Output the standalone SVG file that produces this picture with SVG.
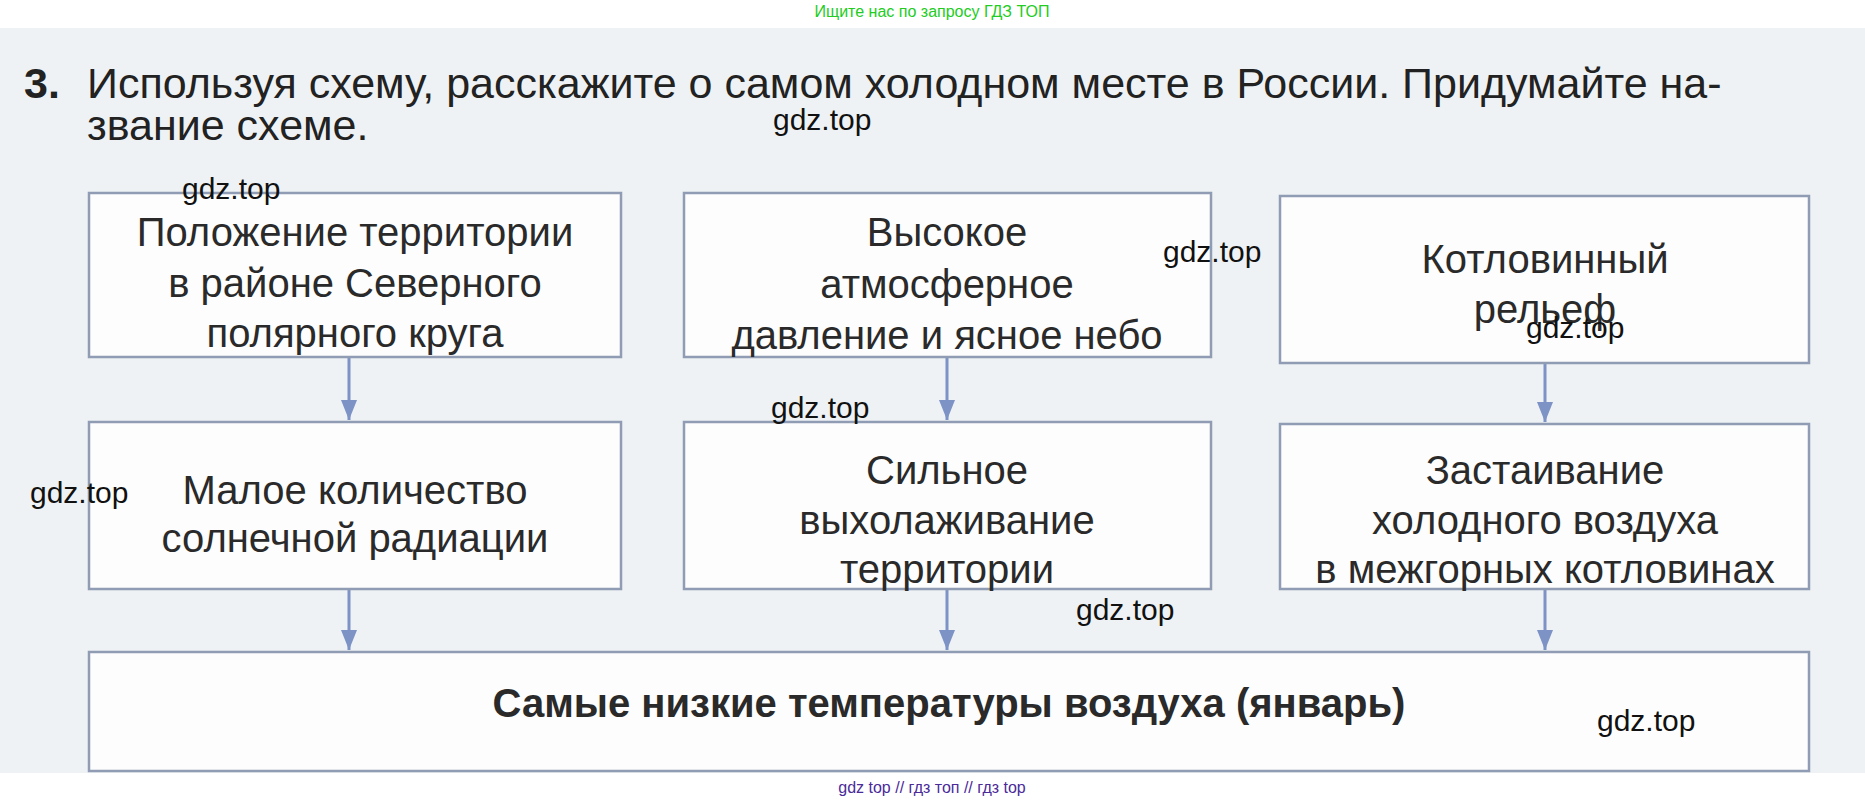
<svg xmlns="http://www.w3.org/2000/svg" width="1865" height="803" viewBox="0 0 1865 803">
<style>
.box{fill:#fdfdfd;stroke:#8f9cb3;stroke-width:2.5}
.t{font-family:"Liberation Sans",Arial,sans-serif;font-size:40px;fill:#2a2a2a;text-anchor:middle}
.h{font-family:"Liberation Sans",Arial,sans-serif;font-size:43px;fill:#222}
.w{font-family:"Liberation Sans",Arial,sans-serif;font-size:30px;fill:#111}
.c{stroke:#7d93c6;stroke-width:3;fill:none;marker-end:url(#a)}
</style>
<defs><marker id="a" markerWidth="16" markerHeight="20" refX="8" refY="20" orient="0" markerUnits="userSpaceOnUse"><path d="M0,0 L16,0 L8,20 Z" fill="#7d93c6"/></marker></defs>
<rect width="1865" height="803" fill="#fff"/>
<rect x="0" y="28" width="1865" height="745" fill="#eef2f4"/>
<text x="932" y="17" font-family="Liberation Sans, Arial, sans-serif" font-size="16" fill="#22cc22" text-anchor="middle">Ищите нас по запросу ГДЗ ТОП</text>
<text x="24" y="98" class="h" font-weight="bold">3.</text>
<text x="87" y="98" class="h">Используя схему, расскажите о самом холодном месте в России. Придумайте на-</text>
<text x="87" y="140" class="h">звание схеме.</text>
<g id="connectors">
<line class="c" x1="349" y1="357" x2="349" y2="420"/>
<line class="c" x1="947" y1="357" x2="947" y2="420"/>
<line class="c" x1="1545" y1="363" x2="1545" y2="422"/>
<line class="c" x1="349" y1="589" x2="349" y2="650"/>
<line class="c" x1="947" y1="589" x2="947" y2="650"/>
<line class="c" x1="1545" y1="589" x2="1545" y2="650"/>
</g>
<g id="n1"><rect class="box" x="89" y="193" width="532" height="164"/>
<text class="t" x="355" y="246">Положение территории</text><text class="t" x="355" y="297">в районе Северного</text><text class="t" x="355" y="347">полярного круга</text></g>
<g id="n2"><rect class="box" x="684" y="193" width="527" height="164"/>
<text class="t" x="947" y="246">Высокое</text><text class="t" x="947" y="298">атмосферное</text><text class="t" x="947" y="349">давление и ясное небо</text></g>
<g id="n3"><rect class="box" x="1280" y="196" width="529" height="167"/>
<text class="t" x="1545" y="273">Котловинный</text><text class="t" x="1545" y="323">рельеф</text></g>
<g id="n4"><rect class="box" x="89" y="422" width="532" height="167"/>
<text class="t" x="355" y="504">Малое количество</text><text class="t" x="355" y="552">солнечной радиации</text></g>
<g id="n5"><rect class="box" x="684" y="422" width="527" height="167"/>
<text class="t" x="947" y="484">Сильное</text><text class="t" x="947" y="534">выхолаживание</text><text class="t" x="947" y="583">территории</text></g>
<g id="n6"><rect class="box" x="1280" y="424" width="529" height="165"/>
<text class="t" x="1545" y="484">Застаивание</text><text class="t" x="1545" y="534">холодного воздуха</text><text class="t" x="1545" y="583">в межгорных котловинах</text></g>
<g id="n7"><rect class="box" x="89" y="652" width="1720" height="119"/>
<text class="t" x="949" y="717" font-size="41" font-weight="bold">Самые низкие температуры воздуха (январь)</text></g>
<g class="w">
<text x="773" y="130">gdz.top</text><text x="182" y="199">gdz.top</text><text x="1163" y="262">gdz.top</text><text x="1526" y="338">gdz.top</text><text x="771" y="418">gdz.top</text><text x="30" y="503">gdz.top</text><text x="1076" y="620">gdz.top</text><text x="1597" y="731">gdz.top</text>
</g>
<text x="932" y="793" font-family="Liberation Sans, Arial, sans-serif" font-size="16" fill="#4b2a9a" text-anchor="middle">gdz top  //  гдз топ  //  гдз top</text>
</svg>
